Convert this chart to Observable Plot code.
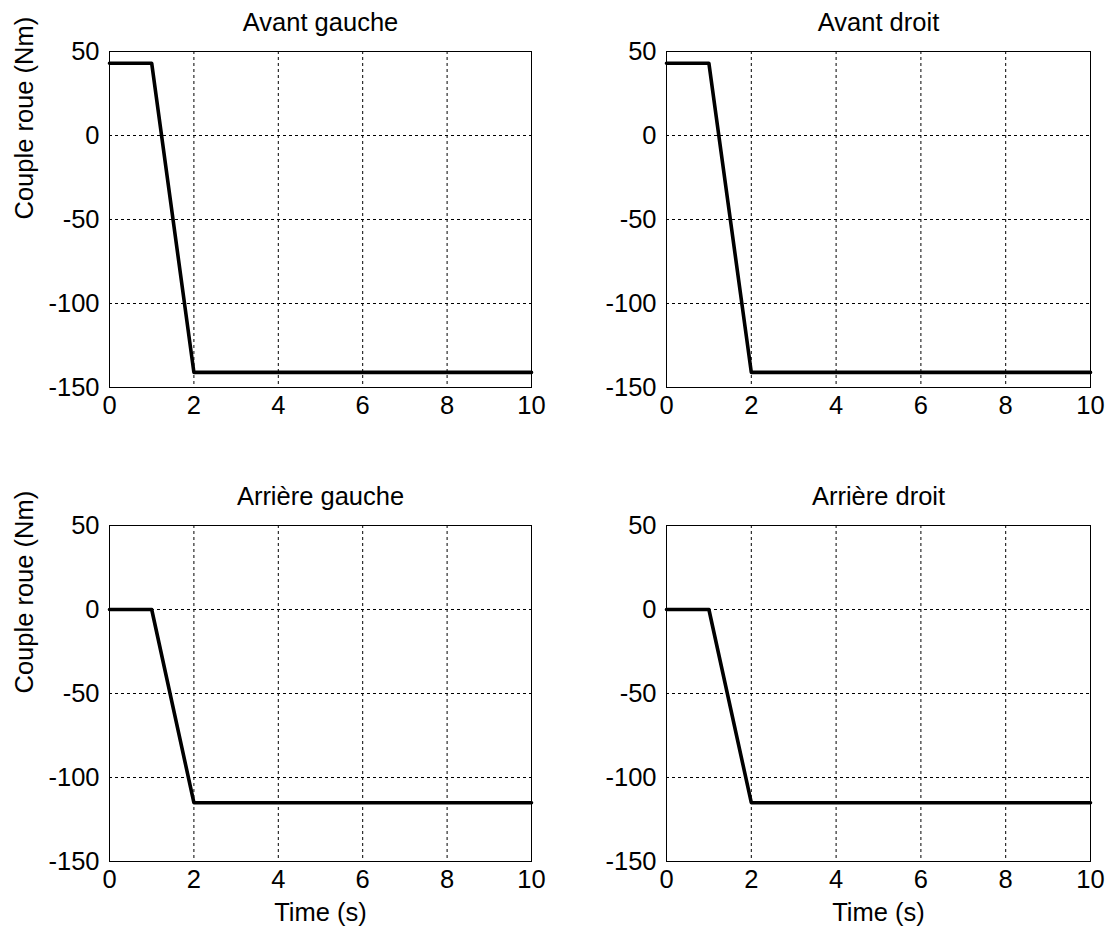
<!DOCTYPE html>
<html>
<head>
<meta charset="utf-8">
<script src="https://cdn.jsdelivr.net/npm/d3@7"></script>
<script src="https://cdn.jsdelivr.net/npm/@observablehq/plot@0.6"></script>
<style>
  html, body { margin: 0; padding: 0; background: #fff; }
  #root { position: relative; width: 1111px; height: 931px; background: #fff; }
  .panel { position: absolute; }
</style>
</head>
<body>
<div id="root"></div>
<script>
// Data
const time = [0, 1, 2, 10];
const avantGauche = [43, 43, -141, -141];
const avantDroit = [43, 43, -141, -141];
const arriereGauche = [0, 0, -115, -115];
const arriereDroit = [0, 0, -115, -115];
const titles = ["Avant gauche", "Avant droit", "Arrière gauche", "Arrière droit"];
const xTicks = [0, 2, 4, 6, 8, 10];
const yTicks = [-150, -100, -50, 0, 50];
const yLabel = "Couple roue (Nm)";
const xLabel = "Time (s)";

const series = [avantGauche, avantDroit, arriereGauche, arriereDroit];
const layout = [
  {left: 0, top: 0, width: 555, height: 474, mr: 24, showY: true, showX: false},
  {left: 557, top: 0, width: 554, height: 474, mr: 21, showY: false, showX: false},
  {left: 0, top: 474, width: 555, height: 457, mr: 24, showY: true, showX: true},
  {left: 557, top: 474, width: 554, height: 457, mr: 21, showY: false, showX: true}
];
const font = "Arial, 'Liberation Sans', Helvetica, sans-serif";
const fs = 25.5;
const root = document.getElementById("root");

series.forEach((vals, i) => {
  const L = layout[i];
  const data = time.map((t, k) => ({t, v: vals[k]}));
  const marks = [
    Plot.gridX(xTicks, {stroke: "#000", strokeOpacity: 1, strokeDasharray: "3,3", strokeWidth: 1}),
    Plot.gridY(yTicks, {stroke: "#000", strokeOpacity: 1, strokeDasharray: "3,3", strokeWidth: 1}),
    Plot.axisX(xTicks, {tickSize: 0, tickPadding: 8, fontSize: fs, label: null, tickFormat: d => String(d)}),
    Plot.axisY(yTicks, {tickSize: 0, tickPadding: 10, fontSize: fs, label: null, tickFormat: d => String(d)}),
    Plot.line(data, {x: "t", y: "v", stroke: "#000", strokeWidth: 3.6}),
    Plot.frame({stroke: "#000", strokeWidth: 1}),
    Plot.text([titles[i]], {frameAnchor: "top", dy: -29, text: d => d, fontSize: fs, fill: "#000", lineAnchor: "middle"})
  ];
  if (L.showY) {
    marks.push(Plot.text([yLabel], {frameAnchor: "left", dx: -85, rotate: -90, text: d => d, fontSize: fs, fill: "#000", lineAnchor: "middle"}));
  }
  if (L.showX) {
    marks.push(Plot.text([xLabel], {frameAnchor: "bottom", dy: 51, text: d => d, fontSize: fs, fill: "#000", lineAnchor: "middle"}));
  }
  const chart = Plot.plot({
    width: L.width,
    height: L.height,
    marginLeft: 109,
    marginRight: L.mr,
    marginTop: 51,
    marginBottom: L.height - 51 - 336,
    x: {domain: [0, 10]},
    y: {domain: [-150, 50]},
    style: {fontFamily: font, fontSize: fs + "px", color: "#000", background: "transparent", overflow: "visible"},
    marks
  });
  const div = document.createElement("div");
  div.className = "panel";
  div.style.left = L.left + "px";
  div.style.top = L.top + "px";
  div.appendChild(chart);
  root.appendChild(div);
});
</script>
</body>
</html>
